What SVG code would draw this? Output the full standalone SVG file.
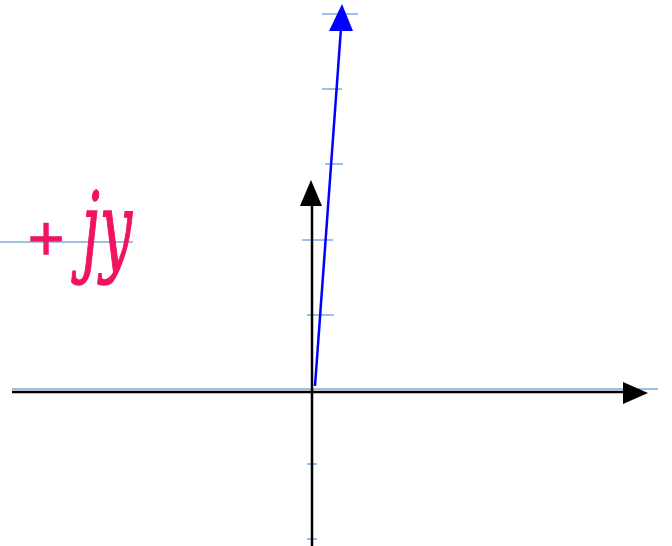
<svg xmlns="http://www.w3.org/2000/svg" width="672" height="546" viewBox="0 0 672 546">
<defs>
<style>
.tick{stroke:#9cc0e8;stroke-width:2;fill:none}
.axis{stroke:#000;stroke-width:2.5;fill:none}
.vec{stroke:#0000ff;stroke-width:2.5;fill:none}
.hand{font-family:"DejaVu Serif","Liberation Serif",serif;font-style:italic;fill:#f01460;stroke:#f01460;stroke-width:1.5}
</style>
</defs>
<rect width="672" height="546" fill="#fff"/>
<g id="grid">
<line class="tick" x1="12" y1="389" x2="658" y2="389"/>
<line class="tick" x1="0" y1="242" x2="133" y2="242"/>
<line class="tick" x1="322" y1="14" x2="358" y2="14"/>
<line class="tick" x1="322" y1="89" x2="342" y2="89"/>
<line class="tick" x1="325" y1="164" x2="343" y2="164"/>
<line class="tick" x1="302" y1="240" x2="333" y2="240"/>
<line class="tick" x1="307" y1="315" x2="334" y2="315"/>
<line class="tick" x1="307" y1="464" x2="317" y2="464"/>
<line class="tick" x1="307" y1="539" x2="317" y2="539"/>
</g>
<g id="label">
<text class="hand"><tspan x="26" y="254" font-size="48">+</tspan><tspan x="82" y="263" font-size="100" textLength="50" lengthAdjust="spacingAndGlyphs">jy</tspan></text>
</g>
<g id="connectors">
<line class="axis" x1="12" y1="392" x2="624" y2="392"/>
<polygon points="648,393 623,382 623,404" fill="#000"/>
<line class="axis" x1="312" y1="546" x2="312" y2="204"/>
<polygon points="311,180 300,206 322,206" fill="#000"/>
<line class="vec" x1="315" y1="386" x2="341" y2="28"/>
<polygon points="342,4 329,31 353,31" fill="#0000ff"/>
</g>
</svg>
